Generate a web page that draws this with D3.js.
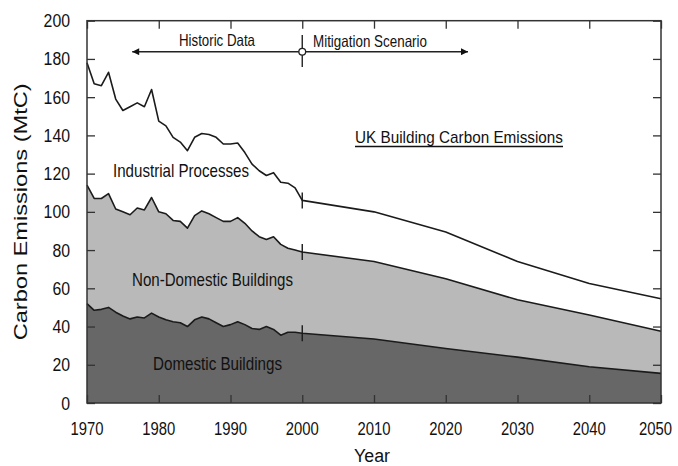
<!DOCTYPE html>
<html>
<head>
<meta charset="utf-8">
<script src="https://cdn.jsdelivr.net/npm/d3@7"></script>
<style>
  html, body { margin: 0; padding: 0; background: #fff; }
  svg { display: block; }
  text { font-family: "Liberation Sans", Arial, sans-serif; fill: #111; }
</style>
</head>
<body>
<svg id="chart" width="678" height="466"></svg>
<script>
// Years: annual history to 2000, then decade steps of the scenario
const years = [1970, 1971, 1972, 1973, 1974, 1975, 1976, 1977, 1978, 1979,
               1980, 1981, 1982, 1983, 1984, 1985, 1986, 1987, 1988, 1989,
               1990, 1991, 1992, 1993, 1994, 1995, 1996, 1997, 1998, 1999,
               2000, 2010, 2020, 2030, 2040, 2050];

// Emissions by sector (MtC)
const domestic = [52, 48.5, 49, 50, 47.5, 45.5, 44, 45, 44.5, 47,
                  45, 43.5, 42.5, 42, 40, 43.5, 45, 44, 42, 40,
                  41, 42.5, 41, 39, 38.5, 40, 38.5, 35.5, 37, 37,
                  36.5, 33.5, 28.5, 24, 19, 15.5];
const nonDomestic = [62, 58.5, 58, 59.5, 54, 54.5, 54.5, 57, 56.5, 60.5,
                     55, 55.5, 53, 53, 51.5, 54.5, 55.5, 55, 55, 55,
                     54, 54.5, 53, 51, 48.5, 45.5, 48.5, 47.5, 44, 43,
                     42.5, 40.5, 36.5, 30, 27, 22];
const industrial = [64, 60, 59, 63.5, 57.5, 53, 56.5, 55, 54, 56.5,
                    47.5, 46, 43.5, 41.5, 40.5, 41, 40.5, 41.5, 42, 40.5,
                    40.5, 39, 37, 35, 34.5, 33.5, 33.5, 32.5, 34, 32.5,
                    27, 26, 24.5, 20, 16.5, 17];

const sectorKeys = ["domestic", "nonDomestic", "industrial"];
const sectorColors = { domestic: "#676767", nonDomestic: "#b9b9b9", industrial: "#ffffff" };

const xTicks = [1970, 1980, 1990, 2000, 2010, 2020, 2030, 2040, 2050];
const yTicks = [0, 20, 40, 60, 80, 100, 120, 140, 160, 180, 200];
const splitYear = 2000;

const rows = years.map((yr, i) => ({
  year: yr, domestic: domestic[i], nonDomestic: nonDomestic[i], industrial: industrial[i]
}));

const svg = d3.select("#chart");
const width = 678;
const plotLeft = 87, plotRight = 661, plotTop = 20.7, plotBottom = 403;

const x = d3.scaleLinear().domain([1970, 2050]).range([plotLeft, plotRight]);
const y = d3.scaleLinear().domain([0, 200]).range([plotBottom, plotTop]);

const stacked = d3.stack().keys(sectorKeys)(rows);

// Condensed lettering: size sets the height, textLength sets the run
function label(g, txt, px, py, size, len, anchor) {
  const t = g.append("text")
    .attr("x", px).attr("y", py)
    .attr("font-size", size)
    .attr("text-anchor", anchor || "start")
    .text(txt);
  if (len) t.attr("textLength", len).attr("lengthAdjust", "spacingAndGlyphs");
  return t;
}

// Stacked areas
const area = d3.area()
  .x(d => x(d.data.year))
  .y0(d => y(d[0]))
  .y1(d => y(d[1]));

svg.append("g").selectAll("path")
  .data(stacked)
  .join("path")
  .attr("d", area)
  .attr("fill", d => sectorColors[d.key]);

// Upper boundary of each band
const edge = d3.line()
  .x(d => x(d.data.year))
  .y(d => y(d[1]));

svg.append("g").selectAll("path")
  .data(stacked)
  .join("path")
  .attr("d", edge)
  .attr("fill", "none")
  .attr("stroke", "#1b1b1b")
  .attr("stroke-width", 1.6)
  .attr("stroke-linejoin", "round");

// Markers where the history meets the scenario
const splitIdx = years.indexOf(splitYear);
svg.append("g").selectAll("line")
  .data(stacked)
  .join("line")
  .attr("x1", x(splitYear)).attr("x2", x(splitYear))
  .attr("y1", d => y(d[splitIdx][1]) - 8)
  .attr("y2", d => y(d[splitIdx][1]) + 8)
  .attr("stroke", "#1b1b1b")
  .attr("stroke-width", 1.4);

// Axes with inward ticks on all four sides
const tickLen = 8;
const axisStyle = g => {
  g.select(".domain").remove();
  g.selectAll(".tick line").attr("stroke", "#333").attr("stroke-width", 1.3);
};
svg.append("g").attr("transform", `translate(0,${plotBottom})`)
  .call(d3.axisBottom(x).tickValues(xTicks).tickSize(-tickLen).tickFormat(""))
  .call(axisStyle);
svg.append("g").attr("transform", `translate(0,${plotTop})`)
  .call(d3.axisTop(x).tickValues(xTicks).tickSize(-tickLen).tickFormat(""))
  .call(axisStyle);
svg.append("g").attr("transform", `translate(${plotLeft},0)`)
  .call(d3.axisLeft(y).tickValues(yTicks).tickSize(-tickLen).tickFormat(""))
  .call(axisStyle);
svg.append("g").attr("transform", `translate(${plotRight},0)`)
  .call(d3.axisRight(y).tickValues(yTicks).tickSize(-tickLen).tickFormat(""))
  .call(axisStyle);

// Frame
svg.append("rect")
  .attr("x", plotLeft).attr("y", plotTop)
  .attr("width", plotRight - plotLeft).attr("height", plotBottom - plotTop)
  .attr("fill", "none")
  .attr("stroke", "#333")
  .attr("stroke-width", 1.5);

// Tick labels
const tl = svg.append("g");
yTicks.forEach(v => {
  const w = String(v).length * 8.8;
  label(tl, String(v), 70, y(v) + 6.5, 18, w, "end");
});
const xLabelW = 33;
xTicks.forEach(v => {
  const cx = Math.min(x(v), width - xLabelW / 2 - 6);
  label(tl, String(v), cx, 435, 18, xLabelW, "middle");
});

// Axis titles
label(svg, "Year", (plotLeft + plotRight) / 2 - 2, 462, 18, 36, "middle");
const yt = svg.append("g").attr("transform", `translate(27,${(plotTop + plotBottom) / 2}) rotate(-90)`);
label(yt, "Carbon Emissions (MtC)", 0, 0, 18.5, 257, "middle");

// Period annotation
const ann = svg.append("g");
const annY = 51.7;
const markerDef = svg.append("defs");
markerDef.append("marker")
  .attr("id", "head")
  .attr("viewBox", "0 0 10 10")
  .attr("refX", 10).attr("refY", 5)
  .attr("markerWidth", 9).attr("markerHeight", 7)
  .attr("markerUnits", "userSpaceOnUse")
  .attr("orient", "auto")
  .append("path")
  .attr("d", "M0,0 L10,5 L0,10 Z")
  .attr("fill", "#111");

ann.append("line")
  .attr("x1", x(splitYear)).attr("x2", x(1976.3))
  .attr("y1", annY).attr("y2", annY)
  .attr("stroke", "#222").attr("stroke-width", 1.4)
  .attr("marker-end", "url(#head)");
ann.append("line")
  .attr("x1", x(splitYear)).attr("x2", x(2023.1))
  .attr("y1", annY).attr("y2", annY)
  .attr("stroke", "#222").attr("stroke-width", 1.4)
  .attr("marker-end", "url(#head)");
ann.append("line")
  .attr("x1", x(splitYear)).attr("x2", x(splitYear))
  .attr("y1", 35).attr("y2", 67)
  .attr("stroke", "#222").attr("stroke-width", 1.4);
ann.append("circle")
  .attr("cx", x(splitYear)).attr("cy", annY).attr("r", 3.4)
  .attr("fill", "#fff").attr("stroke", "#222").attr("stroke-width", 1.3);

label(ann, "Historic Data", 179, 46, 16.5, 76);
label(ann, "Mitigation Scenario", 313, 47, 16.5, 114);

// Chart title, underlined
label(svg, "UK Building Carbon Emissions", 355, 143, 17, 208);
svg.append("line")
  .attr("x1", 355).attr("x2", 563)
  .attr("y1", 146.5).attr("y2", 146.5)
  .attr("stroke", "#111").attr("stroke-width", 1.3);

// Sector labels
label(svg, "Industrial Processes", 113, 177, 18.5, 136);
label(svg, "Non-Domestic Buildings", 132, 286, 18.5, 161);
label(svg, "Domestic Buildings", 153, 370, 18.5, 129);
</script>
</body>
</html>
